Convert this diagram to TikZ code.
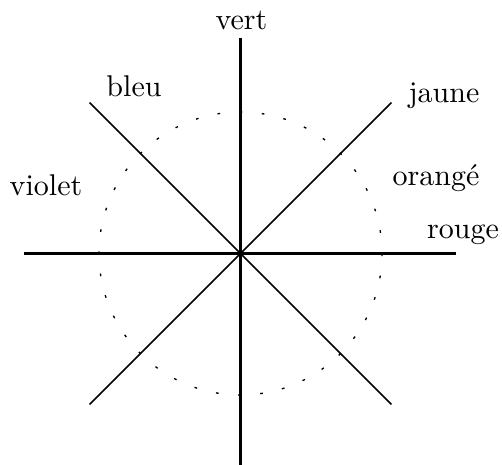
\documentclass[tikz,border=0pt]{standalone}
\begin{document}
\begin{tikzpicture}[x={(0.33333pt,0)},y={(0,-0.33333pt)},
  axis/.style={line width=1pt},
  diag/.style={line width=0.5pt},
  dots/.style={line width=0.45pt,dash pattern=on 0.9pt off 6.5pt},
  lab/.style={anchor=base,inner sep=0pt,font=\fontsize{10pt}{12pt}\selectfont}]
\useasboundingbox (0,0) rectangle (502,465);
\coordinate (O) at (240.5,253.5);
\coordinate (W) at (24,253.5);
\coordinate (E) at (456,253.5);
\coordinate (N) at (240.5,38);
\coordinate (S) at (240.5,465);
\coordinate (NW) at (89.5,102.5);
\coordinate (SE) at (391.5,404.5);
\coordinate (NE) at (391.5,102.5);
\coordinate (SW) at (89.5,404.5);
\draw[dots] (O) circle (141.5);
\draw[diag] (NW) -- (SE);
\draw[diag] (SW) -- (NE);
\draw[axis] (W) -- (E);
\draw[axis] (N) -- (S);
\node[lab] (vert) at (241.5,29) {vert};
\node[lab] (bleu) at (134,96) {bleu};
\node[lab] (jaune) at (444,102) {jaune};
\node[lab] (violet) at (46,195) {violet};
\node[lab] (orange) at (436,185) {orangé};
\node[lab] (rouge) at (463,238) {rouge};
\end{tikzpicture}
\end{document}
